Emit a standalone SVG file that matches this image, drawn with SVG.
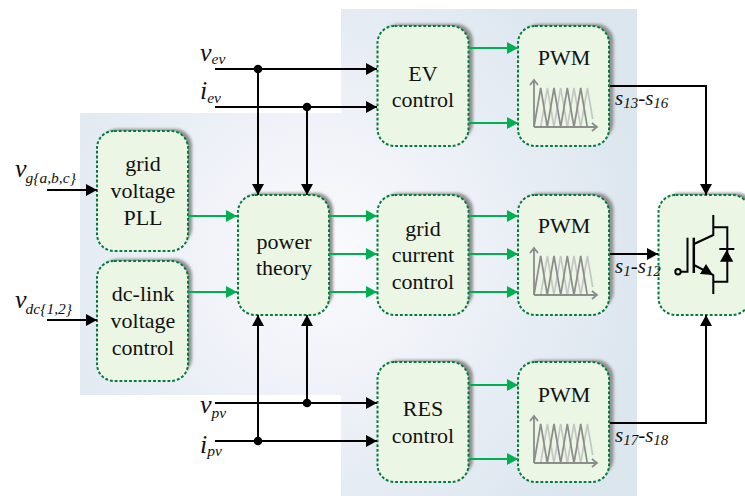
<svg xmlns="http://www.w3.org/2000/svg" width="745" height="496" viewBox="0 0 745 496">
<defs>
<radialGradient id="bg" gradientUnits="userSpaceOnUse" cx="320" cy="255" r="330">
<stop offset="0" stop-color="#fbfbfd"/><stop offset="0.35" stop-color="#f1f3f9"/><stop offset="1" stop-color="#dce6ef"/>
</radialGradient>
<filter id="blur" x="-20%" y="-20%" width="140%" height="140%"><feGaussianBlur stdDeviation="1.800"/></filter>
<marker id="ab" markerUnits="userSpaceOnUse" markerWidth="12" markerHeight="14" refX="11" refY="6" orient="auto"><path d="M0 0L11 6L0 12Z" fill="#000"/></marker>
<marker id="ag" markerUnits="userSpaceOnUse" markerWidth="12" markerHeight="14" refX="11" refY="6" orient="auto"><path d="M0 0L11 6L0 12Z" fill="#00b050"/></marker>
<rect id="box" width="91" height="120" rx="17" ry="17"/>
<rect id="shade" width="91" height="116" rx="17" ry="17"/>
<g id="pwmicon" fill="none">
<path d="M0 48L6.700 9L13.300 48L20 9L26.700 48L33.300 9L40 48L46.700 9L52 40" stroke="#c6c6c6" stroke-width="1.700" transform="translate(6.700 0)"/>
<path d="M0 48L6.700 9L13.300 48L20 9L26.700 48L33.300 9L40 48L46.700 9L53.300 48" stroke="#8c8c8c" stroke-width="1.700"/>
<path d="M0 48V2M-4 6L0 1L4 6M0 48H62M58 44L63 48L58 52" stroke="#8c8c8c" stroke-width="1.800"/>
</g>
</defs>
<style>
.b{fill:#ebf7e4;stroke:#007a3d;stroke-width:2;stroke-dasharray:2.800 2}
.s{fill:#8f8f8f;filter:url(#blur)}
.t{font-family:"Liberation Serif","Times New Roman",serif;font-size:22px;text-anchor:middle;fill:#111}
.l{font-family:"Liberation Serif","Times New Roman",serif;font-style:italic;fill:#111;font-size:15.500px}
.m{font-size:26px}
.k{fill:none;stroke:#000;stroke-width:2}
.g{fill:none;stroke:#00b050;stroke-width:2.200;marker-end:url(#ag)}
.a{marker-end:url(#ab)}
</style>
<path d="M341 9H637V496H341V395H80V113H341Z" fill="url(#bg)"/>
<g id="nodes">
<g id="pll"><use href="#shade" x="101" y="129" class="s"/><use href="#box" x="97" y="131" class="b"/><text class="t" x="143" y="171">grid</text><text class="t" x="143" y="198">voltage</text><text class="t" x="143" y="225">PLL</text></g>
<g id="dclink"><use href="#shade" x="101" y="259" class="s"/><use href="#box" x="97" y="261" class="b"/><text class="t" x="143" y="301">dc-link</text><text class="t" x="143" y="328">voltage</text><text class="t" x="143" y="355">control</text></g>
<g id="power"><use href="#shade" x="242" y="193" class="s"/><use href="#box" x="238" y="195" class="b"/><text class="t" x="284" y="249">power</text><text class="t" x="284" y="275">theory</text></g>
<g id="ev"><use href="#shade" x="382" y="24" class="s"/><use href="#box" x="377.500" y="26" class="b"/><text class="t" x="423" y="81">EV</text><text class="t" x="423" y="107">control</text></g>
<g id="grid"><use href="#shade" x="382" y="193" class="s"/><use href="#box" x="377.500" y="195" class="b"/><text class="t" x="423" y="236">grid</text><text class="t" x="423" y="262">current</text><text class="t" x="423" y="289">control</text></g>
<g id="res"><use href="#shade" x="382" y="360" class="s"/><use href="#box" x="377.500" y="362" class="b"/><text class="t" x="423" y="416">RES</text><text class="t" x="423" y="443">control</text></g>
<g id="pwm1"><use href="#shade" x="522.500" y="24" class="s"/><use href="#box" x="518" y="26" class="b"/><text class="t" x="564" y="65">PWM</text><use href="#pwmicon" x="534" y="79"/></g>
<g id="pwm2"><use href="#shade" x="522.500" y="193" class="s"/><use href="#box" x="518" y="195" class="b"/><text class="t" x="564" y="233">PWM</text><use href="#pwmicon" x="534" y="247"/></g>
<g id="pwm3"><use href="#shade" x="522.500" y="360" class="s"/><use href="#box" x="518" y="362" class="b"/><text class="t" x="564" y="402">PWM</text><use href="#pwmicon" x="534" y="415"/></g>
<g id="switch"><rect x="663" y="193" width="91" height="116" rx="17" class="s"/><rect x="658.500" y="195" width="91" height="120" rx="17" class="b"/>
<g fill="none" stroke="#000" stroke-width="2"><circle cx="678" cy="271.700" r="2.700"/><path d="M681 271.700H687.500V237.700"/><path d="M693.800 237.700V273" stroke-width="2.500"/><path d="M694 244L713.300 235V215M713.300 227.300H727.300V281.700H713.300M694 265L713.300 275V294"/><path d="M719.300 249H734.300"/></g>
<path d="M720 261.700H733.300L726.700 250Z M713 275L700 274L706 264Z" fill="#000"/></g>
</g>
<g id="connectors">
<path class="k a" d="M47 190H97"/><path class="k a" d="M47 320H97"/>
<path class="k a" d="M215 69H377"/><path class="k a" d="M215 107H377"/><path class="k a" d="M215 403H377"/><path class="k a" d="M215 441H377"/>
<path class="k a" d="M258 69V195"/><path class="k a" d="M307 107V195"/><path class="k a" d="M258 441V315"/><path class="k a" d="M307 403V315"/>
<circle cx="258" cy="69" r="4.300"/><circle cx="307" cy="107" r="4.300"/><circle cx="307" cy="403" r="4.300"/><circle cx="258" cy="441" r="4.300"/>
<path class="g" d="M188 216H237"/><path class="g" d="M188 292H237"/>
<path class="g" d="M329 216H377"/><path class="g" d="M329 254H377"/><path class="g" d="M329 292H377"/>
<path class="g" d="M469 48H518"/><path class="g" d="M469 123H518"/>
<path class="g" d="M469 216H518"/><path class="g" d="M469 254H518"/><path class="g" d="M469 292H518"/>
<path class="g" d="M469 385H518"/><path class="g" d="M469 459H518"/>
<path class="k a" d="M610 86H706V195"/><path class="k a" d="M610 254H658"/><path class="k a" d="M610 423H706V315"/>
</g>
<g id="labels">
<text class="l" x="15" y="177"><tspan class="m">v</tspan><tspan dy="6" dx="-1">g{a,b,c}</tspan></text>
<text class="l" x="15" y="308"><tspan class="m">v</tspan><tspan dy="6" dx="-1">dc{1,2}</tspan></text>
<text class="l" x="200" y="61"><tspan class="m">v</tspan><tspan dy="3">ev</tspan></text>
<text class="l" x="200" y="99"><tspan class="m">i</tspan><tspan dy="4">ev</tspan></text>
<text class="l" x="200" y="413"><tspan class="m">v</tspan><tspan dy="5">pv</tspan></text>
<text class="l" x="200" y="453"><tspan class="m">i</tspan><tspan dy="3">pv</tspan></text>
<text class="l" x="615" y="105" style="font-size:21px">s<tspan dy="3" font-size="15">13</tspan><tspan dy="-3">-s</tspan><tspan dy="3" font-size="15">16</tspan></text>
<text class="l" x="615" y="273" style="font-size:21px">s<tspan dy="3" font-size="15">1</tspan><tspan dy="-3">-s</tspan><tspan dy="3" font-size="15">12</tspan></text>
<text class="l" x="615" y="442" style="font-size:21px">s<tspan dy="3" font-size="15">17</tspan><tspan dy="-3">-s</tspan><tspan dy="3" font-size="15">18</tspan></text>
</g>
</svg>
